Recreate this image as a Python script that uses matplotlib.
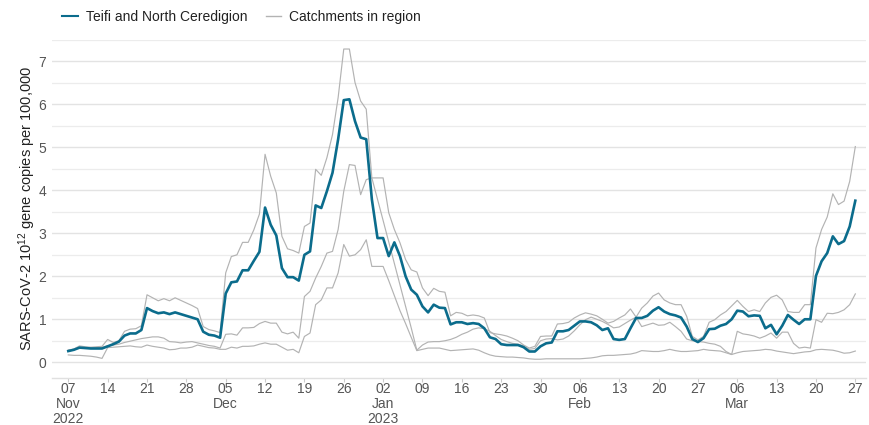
import numpy as np
import pandas as pd
import matplotlib
matplotlib.use("Agg")
import matplotlib.pyplot as plt
from matplotlib.lines import Line2D

plt.rcParams['font.family'] = ['Liberation Sans', 'DejaVu Sans']
plt.rcParams['mathtext.fontset'] = 'custom'
plt.rcParams['mathtext.rm'] = 'Liberation Sans'
plt.rcParams['mathtext.it'] = 'Liberation Sans'

start_date = "2022-11-07"
end_date = "2023-03-27"

teifi = [
    0.26, 0.29, 0.34, 0.33, 0.32, 0.32, 0.32, 0.37, 0.42, 0.48, 0.62, 0.67, 0.67, 0.75,
    1.26, 1.19, 1.14, 1.16, 1.12, 1.16, 1.12, 1.08, 1.04, 1.00, 0.71, 0.64, 0.62, 0.57,
    1.60, 1.86, 1.88, 2.14, 2.14, 2.36, 2.57, 3.60, 3.20, 2.95, 2.19, 1.98, 1.98, 1.90,
    2.50, 2.58, 3.65, 3.59, 3.98, 4.41, 5.19, 6.10, 6.12, 5.61, 5.23, 5.19,
    3.79, 2.89, 2.89, 2.47, 2.79, 2.47, 2.00, 1.69, 1.57,
    1.30, 1.16, 1.34, 1.27, 1.26, 0.88, 0.93, 0.93, 0.89, 0.91, 0.89, 0.79,
    0.58, 0.54, 0.42, 0.40, 0.40, 0.40, 0.35, 0.25, 0.25, 0.37, 0.44, 0.46,
    0.72, 0.72, 0.75, 0.85, 0.95, 0.95, 0.93, 0.86, 0.75, 0.79, 0.54, 0.52, 0.54, 0.79,
    1.03, 1.03, 1.08, 1.20, 1.28, 1.18, 1.12, 1.09, 1.04, 0.83, 0.54, 0.47, 0.56, 0.77,
    0.78, 0.85, 0.89, 1.00,
    1.20, 1.18, 1.07, 1.09, 1.08, 0.79, 0.87, 0.65, 0.85, 1.10, 0.99, 0.89, 1.00, 1.00,
    2.01, 2.35, 2.54, 2.93, 2.75, 2.82, 3.16, 3.76,
]

catchment_a = [
    0.28, 0.31, 0.38, 0.36, 0.35, 0.36, 0.37, 0.53, 0.46, 0.50, 0.72, 0.77, 0.78, 0.85,
    1.57, 1.50, 1.43, 1.48, 1.43, 1.50, 1.44, 1.38, 1.32, 1.25, 0.83, 0.76, 0.73, 0.69,
    2.08, 2.46, 2.50, 2.79, 2.79, 3.08, 3.45, 4.84, 4.33, 3.94, 2.93, 2.64, 2.60, 2.54,
    3.16, 3.24, 4.49, 4.35, 4.76, 5.30, 6.16, 7.29, 7.29, 6.51, 6.08, 5.89,
    4.29, 3.80, 3.30, 2.80, 2.30, 1.80, 1.30, 0.80, 0.28,
    0.40, 0.47, 0.48, 0.48, 0.50, 0.53, 0.58, 0.65, 0.70, 0.77, 0.80, 0.78,
    0.72, 0.62, 0.53, 0.48, 0.44, 0.42, 0.38, 0.30, 0.32, 0.50, 0.54, 0.55,
    0.52, 0.54, 0.61, 0.73, 0.87, 0.99, 1.05, 1.00, 0.95, 0.88, 0.80, 0.82, 0.90, 0.98,
    1.05, 1.26, 1.38, 1.54, 1.61, 1.45, 1.38, 1.34, 1.34, 1.07, 0.60, 0.52, 0.60, 0.93,
    0.99, 1.10, 1.18, 1.31,
    1.44, 1.30, 1.18, 1.22, 1.18, 1.38, 1.51, 1.56, 1.45, 1.18, 1.16, 1.16, 1.34, 1.34,
    2.66, 3.09, 3.38, 3.92, 3.67, 3.75, 4.21, 5.02,
]

catchment_b = [
    0.28, 0.30, 0.35, 0.34, 0.33, 0.34, 0.35, 0.38, 0.40, 0.42, 0.46, 0.49, 0.52, 0.55,
    0.57, 0.59, 0.59, 0.56, 0.48, 0.47, 0.45, 0.47, 0.48, 0.45, 0.42, 0.39, 0.37, 0.33,
    0.65, 0.66, 0.63, 0.80, 0.80, 0.81, 0.90, 0.95, 0.91, 0.91, 0.70, 0.66, 0.70, 0.56,
    1.53, 1.65, 1.96, 2.23, 2.54, 2.58, 3.09, 3.98, 4.60, 4.58, 3.90, 4.25,
    4.29, 4.29, 4.29, 3.48, 3.09, 2.78, 2.39, 2.15, 2.10,
    1.73, 1.55, 1.72, 1.65, 1.63, 1.08, 1.16, 1.14, 1.08, 1.10, 1.08, 1.03,
    0.69, 0.66, 0.64, 0.61, 0.56, 0.50, 0.40, 0.33, 0.37, 0.60, 0.61, 0.61,
    0.89, 0.90, 0.93, 1.03, 1.10, 1.15, 1.12, 1.08, 1.00, 0.91, 0.95, 1.03, 1.10, 1.24,
    1.05, 0.83, 0.87, 0.91, 0.86, 0.87, 0.93, 0.83, 0.72, 0.54, 0.50, 0.48, 0.47, 0.44,
    0.42, 0.37, 0.25, 0.18,
    0.72, 0.66, 0.64, 0.61, 0.56, 0.61, 0.68, 0.56, 0.70, 0.70, 0.44, 0.33, 0.35, 0.33,
    0.99, 0.93, 1.14, 1.13, 1.16, 1.22, 1.34, 1.59,
]

catchment_c = [
    0.17, 0.16, 0.16, 0.15, 0.14, 0.12, 0.09, 0.34, 0.35, 0.36, 0.37, 0.38, 0.36, 0.35,
    0.40, 0.37, 0.35, 0.33, 0.29, 0.30, 0.33, 0.33, 0.35, 0.40, 0.37, 0.34, 0.33, 0.30,
    0.30, 0.35, 0.33, 0.37, 0.37, 0.38, 0.42, 0.45, 0.42, 0.42, 0.35, 0.28, 0.30, 0.22,
    0.60, 0.68, 1.34, 1.45, 1.73, 1.73, 2.08, 2.74, 2.47, 2.50, 2.62, 2.85,
    2.23, 2.23, 2.23, 1.90, 1.55, 1.20, 0.90, 0.58, 0.27,
    0.30, 0.33, 0.33, 0.33, 0.30, 0.27, 0.28, 0.29, 0.30, 0.31, 0.28, 0.22,
    0.17, 0.14, 0.13, 0.12, 0.12, 0.11, 0.10, 0.08, 0.07, 0.07, 0.08, 0.08,
    0.08, 0.08, 0.08, 0.08, 0.08, 0.09, 0.10, 0.12, 0.15, 0.16, 0.16, 0.17, 0.18, 0.19,
    0.22, 0.27, 0.26, 0.25, 0.25, 0.27, 0.30, 0.27, 0.25, 0.25, 0.26, 0.27, 0.30, 0.28,
    0.27, 0.26, 0.22, 0.18,
    0.22, 0.25, 0.26, 0.27, 0.28, 0.30, 0.29, 0.26, 0.24, 0.22, 0.20, 0.22, 0.24, 0.25,
    0.29, 0.30, 0.29, 0.28, 0.25, 0.21, 0.22, 0.26,
]

legend_labels = ["Teifi and North Ceredigion", "Catchments in region"]
y_label = "SARS-CoV-2 10$^{12}$ gene copies per 100,000"
y_ticks = [0, 1, 2, 3, 4, 5, 6, 7]

dates = pd.date_range(start_date, end_date, freq="D")

BLUE = "#0b6c8c"
GREY = "#b3b3b3"
TXT = "#555555"

fig = plt.figure(figsize=(8.7, 4.25), dpi=100)
ax = fig.add_axes([52 / 870, 1 - 377.7 / 425, (866 - 52) / 870, (377.7 - 40) / 425])

for series in (catchment_a, catchment_b, catchment_c):
    ax.plot(dates, series, color=GREY, lw=0.85, zorder=2, solid_joinstyle="round")
ax.plot(dates, teifi, color=BLUE, lw=1.9, zorder=3, solid_joinstyle="round")

ax.set_xlim(dates[0] - pd.Timedelta(days=2.9), dates[-1] + pd.Timedelta(days=1.9))
ax.set_ylim(-0.36, 7.5)

ax.set_yticks(y_ticks)
ax.set_yticks(np.arange(0.5, 7.6, 1.0), minor=True)
ax.yaxis.grid(True, which="major", color="#e3e3e3", lw=1.0)
ax.yaxis.grid(True, which="minor", color="#ececec", lw=0.9)
ax.set_axisbelow(True)
ax.tick_params(axis="y", which="both", length=0, labelsize=10, labelcolor=TXT, pad=4)

ticks = pd.date_range(start_date, end_date, freq="7D")
labels = []
prev = None
for t in ticks:
    s = t.strftime("%d")
    if prev is None or t.month != prev.month:
        s += "\n" + t.strftime("%b")
    if prev is None or t.year != prev.year:
        s += "\n" + t.strftime("%Y")
    labels.append(s)
    prev = t
ax.set_xticks(ticks)
ax.set_xticklabels(labels)
ax.tick_params(axis="x", length=3, color="#cccccc", labelsize=10, labelcolor=TXT, pad=0)
for lab in ax.get_xticklabels():
    lab.set_linespacing(1.1)

for s in ("top", "right", "left"):
    ax.spines[s].set_visible(False)
ax.spines["bottom"].set_color("#e0e0e0")
ax.spines["bottom"].set_linewidth(1.0)

ax.set_ylabel(y_label, fontsize=10.5, color="#222222")
ax.yaxis.set_label_coords((38.5 - 52) / 814, 0.5)

handles = [Line2D([], [], color=BLUE, lw=1.5), Line2D([], [], color=GREY, lw=1.0)]
fig.legend(handles, legend_labels, loc="upper left", bbox_to_anchor=(50 / 870, 1 + 3 / 425),
           ncol=2, frameon=False, fontsize=10, handlelength=1.1, handletextpad=0.6,
           columnspacing=1.3, labelcolor="#222222")

fig.savefig("out.png", dpi=100)
